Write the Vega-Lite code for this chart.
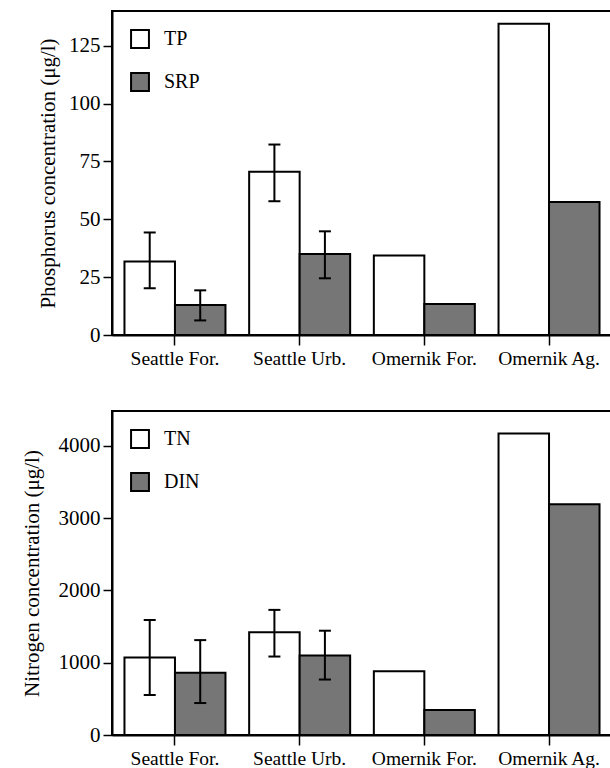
{
  "$schema": "https://vega.github.io/schema/vega-lite/v6.json",
  "background": "white",
  "padding": {"left": 20, "top": 10, "right": 0, "bottom": 0},
  "bounds": "flush",
  "spacing": 76,
  "config": {
    "font": "Liberation Serif",
    "view": {"stroke": "black", "strokeWidth": 2},
    "axis": {
      "domainColor": "black", "domainWidth": 2, "tickColor": "black", "tickWidth": 1.5,
      "labelColor": "black", "titleColor": "black", "labelFont": "Liberation Serif", "titleFont": "Liberation Serif",
      "titleFontWeight": "normal", "grid": false
    },
    "axisY": {"labelFont": "Liberation Serif", "titleFont": "Liberation Serif", "titleFontWeight": "normal"},
    "axisLeft": {"labelFont": "Liberation Serif", "titleFont": "Liberation Serif", "titleFontWeight": "normal"},
    "axisQuantitative": {"labelFont": "Liberation Serif", "titleFont": "Liberation Serif"},
    "style": {
      "guide-label": {"font": "Liberation Serif"},
      "guide-title": {"font": "Liberation Serif", "fontWeight": "normal"}
    }
  },
  "datasets": {
    "phosphorus": [
      {"site": "Seattle For.", "form": "TP", "value": 31.8, "lo": 20.2, "hi": 44.3},
      {"site": "Seattle For.", "form": "SRP", "value": 13.0, "lo": 6.3, "hi": 19.3},
      {"site": "Seattle Urb.", "form": "TP", "value": 70.5, "lo": 57.8, "hi": 82.3},
      {"site": "Seattle Urb.", "form": "SRP", "value": 35.0, "lo": 24.5, "hi": 44.8},
      {"site": "Omernik For.", "form": "TP", "value": 34.3, "lo": null, "hi": null},
      {"site": "Omernik For.", "form": "SRP", "value": 13.4, "lo": null, "hi": null},
      {"site": "Omernik Ag.", "form": "TP", "value": 134.5, "lo": null, "hi": null},
      {"site": "Omernik Ag.", "form": "SRP", "value": 57.5, "lo": null, "hi": null}
    ],
    "nitrogen": [
      {"site": "Seattle For.", "form": "TN", "value": 1070, "lo": 553, "hi": 1590},
      {"site": "Seattle For.", "form": "DIN", "value": 860, "lo": 442, "hi": 1312},
      {"site": "Seattle Urb.", "form": "TN", "value": 1420, "lo": 1085, "hi": 1730},
      {"site": "Seattle Urb.", "form": "DIN", "value": 1100, "lo": 767, "hi": 1442},
      {"site": "Omernik For.", "form": "TN", "value": 880, "lo": null, "hi": null},
      {"site": "Omernik For.", "form": "DIN", "value": 344, "lo": null, "hi": null},
      {"site": "Omernik Ag.", "form": "TN", "value": 4170, "lo": null, "hi": null},
      {"site": "Omernik Ag.", "form": "DIN", "value": 3190, "lo": null, "hi": null}
    ]
  },
  "resolve": {
    "scale": {"color": "independent", "fill": "independent", "x": "independent", "y": "independent", "xOffset": "independent"},
    "legend": {"fill": "independent"}
  },
  "vconcat": [
    {
      "width": 500, "height": 324,
      "data": {"name": "phosphorus"},
      "encoding": {
        "x": {"field": "site", "type": "nominal", "sort": null,
          "scale": {"paddingInner": 0.19, "paddingOuter": 0.1},
          "axis": {"title": null, "labelFont": "Liberation Serif", "labelFontSize": 19.5, "labelAngle": 0, "tickSize": 10, "labelPadding": 4}},
        "xOffset": {"field": "form", "type": "nominal", "scale": {"domain": ["TP", "SRP"], "paddingInner": 0, "paddingOuter": 0}}
      },
      "layer": [
        {
          "mark": {"type": "bar", "stroke": "black", "strokeWidth": 2},
          "encoding": {
            "y": {"field": "value", "type": "quantitative", "title": "Phosphorus concentration (μg/l)",
              "scale": {"domain": [0, 140], "nice": false},
              "axis": {"values": [0, 25, 50, 75, 100, 125], "format": "d", "labelFont": "Liberation Serif", "titleFont": "Liberation Serif", "titleFontWeight": "normal", "titleFontSize": 21, "labelFontSize": 21, "tickSize": 9, "labelPadding": 3, "titlePadding": 10}},
            "fill": {"field": "form", "type": "nominal", "scale": {"domain": ["TP", "SRP"], "range": ["white", "#767676"]},
              "legend": {"title": null, "orient": "top-left", "offset": 18, "padding": 0,
                "symbolType": "square", "symbolSize": 320, "symbolStrokeColor": "black",
                "symbolStrokeWidth": 2, "labelFontSize": 20, "labelOffset": 14, "rowPadding": 17,
                "labelColor": "black", "labelFont": "Liberation Serif"}}
          }
        },
        {
          "mark": {"type": "rule", "color": "black", "strokeWidth": 2},
          "encoding": {
            "y": {"field": "lo", "type": "quantitative", "title": "Phosphorus concentration (μg/l)",
              "axis": {"values": [0, 25, 50, 75, 100, 125], "format": "d", "labelFont": "Liberation Serif", "titleFont": "Liberation Serif", "titleFontWeight": "normal", "titleFontSize": 21, "labelFontSize": 21, "tickSize": 9, "labelPadding": 3, "titlePadding": 10}},
            "y2": {"field": "hi"}
          }
        },
        {
          "mark": {"type": "tick", "color": "black", "thickness": 2, "size": 12, "opacity": 1},
          "encoding": {"y": {"field": "lo", "type": "quantitative", "title": "Phosphorus concentration (μg/l)",
              "axis": {"values": [0, 25, 50, 75, 100, 125], "format": "d", "labelFont": "Liberation Serif", "titleFont": "Liberation Serif", "titleFontWeight": "normal", "titleFontSize": 21, "labelFontSize": 21, "tickSize": 9, "labelPadding": 3, "titlePadding": 10}}}
        },
        {
          "mark": {"type": "tick", "color": "black", "thickness": 2, "size": 12, "opacity": 1},
          "encoding": {"y": {"field": "hi", "type": "quantitative", "title": "Phosphorus concentration (μg/l)",
              "axis": {"values": [0, 25, 50, 75, 100, 125], "format": "d", "labelFont": "Liberation Serif", "titleFont": "Liberation Serif", "titleFontWeight": "normal", "titleFontSize": 21, "labelFontSize": 21, "tickSize": 9, "labelPadding": 3, "titlePadding": 10}}}
        }
      ]
    },
    {
      "width": 500, "height": 324,
      "data": {"name": "nitrogen"},
      "encoding": {
        "x": {"field": "site", "type": "nominal", "sort": null,
          "scale": {"paddingInner": 0.19, "paddingOuter": 0.1},
          "axis": {"title": null, "labelFont": "Liberation Serif", "labelFontSize": 19.5, "labelAngle": 0, "tickSize": 10, "labelPadding": 4}},
        "xOffset": {"field": "form", "type": "nominal", "scale": {"domain": ["TN", "DIN"], "paddingInner": 0, "paddingOuter": 0}}
      },
      "layer": [
        {
          "mark": {"type": "bar", "stroke": "black", "strokeWidth": 2},
          "encoding": {
            "y": {"field": "value", "type": "quantitative", "title": "Nitrogen concentration (μg/l)",
              "scale": {"domain": [0, 4480], "nice": false},
              "axis": {"values": [0, 1000, 2000, 3000, 4000], "format": "d", "labelFont": "Liberation Serif", "titleFont": "Liberation Serif", "titleFontWeight": "normal", "titleFontSize": 21, "labelFontSize": 21, "tickSize": 9, "labelPadding": 3, "titlePadding": 16}},
            "fill": {"field": "form", "type": "nominal", "scale": {"domain": ["TN", "DIN"], "range": ["white", "#767676"]},
              "legend": {"title": null, "orient": "top-left", "offset": 18, "padding": 0,
                "symbolType": "square", "symbolSize": 320, "symbolStrokeColor": "black",
                "symbolStrokeWidth": 2, "labelFontSize": 20, "labelOffset": 14, "rowPadding": 17,
                "labelColor": "black", "labelFont": "Liberation Serif"}}
          }
        },
        {
          "mark": {"type": "rule", "color": "black", "strokeWidth": 2},
          "encoding": {
            "y": {"field": "lo", "type": "quantitative", "title": "Nitrogen concentration (μg/l)",
              "axis": {"values": [0, 1000, 2000, 3000, 4000], "format": "d", "labelFont": "Liberation Serif", "titleFont": "Liberation Serif", "titleFontWeight": "normal", "titleFontSize": 21, "labelFontSize": 21, "tickSize": 9, "labelPadding": 3, "titlePadding": 16}},
            "y2": {"field": "hi"}
          }
        },
        {
          "mark": {"type": "tick", "color": "black", "thickness": 2, "size": 12, "opacity": 1},
          "encoding": {"y": {"field": "lo", "type": "quantitative", "title": "Nitrogen concentration (μg/l)",
              "axis": {"values": [0, 1000, 2000, 3000, 4000], "format": "d", "labelFont": "Liberation Serif", "titleFont": "Liberation Serif", "titleFontWeight": "normal", "titleFontSize": 21, "labelFontSize": 21, "tickSize": 9, "labelPadding": 3, "titlePadding": 16}}}
        },
        {
          "mark": {"type": "tick", "color": "black", "thickness": 2, "size": 12, "opacity": 1},
          "encoding": {"y": {"field": "hi", "type": "quantitative", "title": "Nitrogen concentration (μg/l)",
              "axis": {"values": [0, 1000, 2000, 3000, 4000], "format": "d", "labelFont": "Liberation Serif", "titleFont": "Liberation Serif", "titleFontWeight": "normal", "titleFontSize": 21, "labelFontSize": 21, "tickSize": 9, "labelPadding": 3, "titlePadding": 16}}}
        }
      ]
    }
  ]
}
